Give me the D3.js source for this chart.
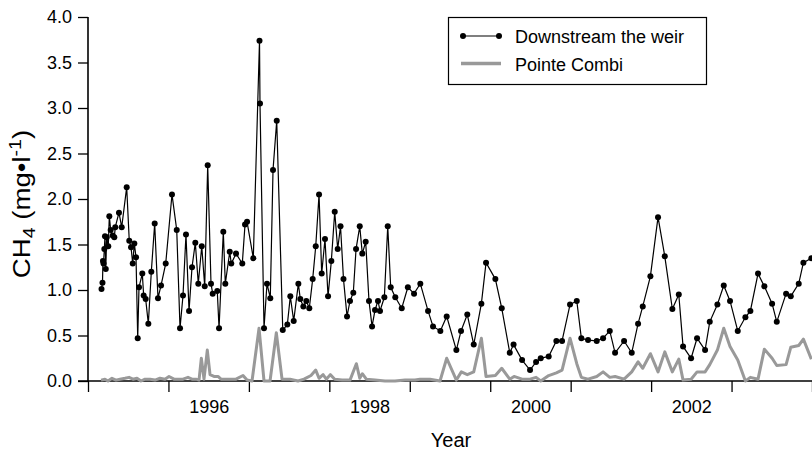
<!DOCTYPE html>
<html>
<head>
<meta charset="utf-8">
<script src="https://cdn.jsdelivr.net/npm/d3@7"></script>
<style>
  html, body { margin: 0; padding: 0; background: #fff; }
  svg { display: block; font-family: "Liberation Sans", Arial, sans-serif; }
</style>
</head>
<body>
<svg id="chart" width="812" height="454"></svg>
<script>
// ---- Data ----
const dsYear = [1994.668,1994.680,1994.686,1994.693,1994.703,1994.711,1994.721,1994.732,1994.752,1994.765,1994.782,1994.807,1994.827,1994.839,1994.885,1994.919,1994.981,1995.013,1995.035,1995.056,1995.076,1995.097,1995.118,1995.134,1995.175,1995.192,1995.217,1995.250,1995.287,1995.329,1995.370,1995.408,1995.466,1995.544,1995.603,1995.644,1995.681,1995.718,1995.756,1995.793,1995.834,1995.871,1995.914,1995.951,1995.988,1996.029,1996.050,1996.107,1996.129,1996.182,1996.207,1996.262,1996.281,1996.340,1996.418,1996.452,1996.477,1996.555,1996.632,1996.638,1996.688,1996.725,1996.766,1996.800,1996.846,1996.921,1996.978,1997.015,1997.057,1997.115,1997.139,1997.177,1997.214,1997.251,1997.293,1997.331,1997.372,1997.405,1997.446,1997.484,1997.525,1997.567,1997.604,1997.639,1997.676,1997.720,1997.757,1997.798,1997.832,1997.878,1997.910,1997.952,1997.993,1998.031,1998.068,1998.105,1998.130,1998.184,1998.226,1998.263,1998.320,1998.400,1998.476,1998.553,1998.631,1998.727,1998.789,1998.880,1998.959,1999.079,1999.137,1999.215,1999.295,1999.390,1999.448,1999.564,1999.643,1999.743,1999.790,1999.896,1999.995,2000.070,2000.128,2000.227,2000.322,2000.393,2000.492,2000.576,2000.633,2000.716,2000.824,2000.903,2000.986,2001.052,2001.164,2001.259,2001.338,2001.396,2001.491,2001.586,2001.670,2001.764,2001.844,2001.897,2001.997,2002.071,2002.171,2002.229,2002.324,2002.403,2002.481,2002.577,2002.672,2002.734,2002.829,2002.908,2003.004,2003.062,2003.178,2003.236,2003.335,2003.393,2003.492];
const dsVal  = [1.01,1.08,1.32,1.29,1.45,1.59,1.23,1.58,1.48,1.81,1.66,1.60,1.58,1.69,1.85,1.69,2.13,1.54,1.47,1.29,1.51,1.36,0.47,1.03,1.18,0.94,0.90,0.63,1.20,1.73,0.91,1.05,1.29,2.05,1.66,0.58,0.94,1.61,0.77,1.25,1.52,1.07,1.48,1.04,2.37,1.07,0.96,0.99,0.58,1.64,1.07,1.42,1.29,1.40,1.29,1.72,1.75,1.35,3.74,3.05,0.58,1.07,0.91,2.32,2.86,0.56,0.62,0.93,0.66,1.07,0.90,0.82,0.88,0.80,1.12,1.48,2.05,1.18,1.56,0.93,1.32,1.86,1.45,1.70,1.12,0.71,0.88,0.97,1.45,1.70,1.40,1.53,0.88,0.60,0.78,0.88,0.77,0.92,1.70,1.03,0.92,0.80,1.03,0.96,1.07,0.77,0.60,0.55,0.71,0.34,0.55,0.73,0.40,0.85,1.30,1.12,0.80,0.31,0.40,0.23,0.12,0.21,0.25,0.27,0.44,0.44,0.84,0.88,0.47,0.45,0.44,0.47,0.55,0.31,0.44,0.31,0.63,0.82,1.15,1.80,1.37,0.79,0.95,0.38,0.25,0.47,0.34,0.65,0.84,1.05,0.88,0.55,0.70,0.77,1.18,1.04,0.85,0.65,0.96,0.93,1.07,1.30,1.35];

const pcYear = [1994.662,1994.711,1994.749,1994.798,1994.848,1994.898,1994.960,1995.010,1995.059,1995.109,1995.159,1995.209,1995.271,1995.333,1995.395,1995.457,1995.507,1995.569,1995.619,1995.681,1995.743,1995.793,1995.843,1995.880,1995.909,1995.942,1995.983,1996.017,1996.066,1996.116,1996.154,1996.241,1996.340,1996.427,1996.477,1996.539,1996.626,1996.688,1996.763,1996.841,1996.912,1997.011,1997.111,1997.185,1997.272,1997.331,1997.372,1997.422,1997.463,1997.512,1997.567,1997.658,1997.757,1997.836,1997.878,1997.910,1997.960,1998.068,1998.192,1998.317,1998.441,1998.565,1998.627,1998.752,1998.876,1998.959,1999.079,1999.141,1999.215,1999.295,1999.390,1999.448,1999.564,1999.643,1999.743,1999.796,1999.896,1999.995,2000.070,2000.128,2000.227,2000.322,2000.393,2000.492,2000.576,2000.633,2000.716,2000.824,2000.903,2000.986,2001.052,2001.164,2001.259,2001.338,2001.396,2001.491,2001.586,2001.670,2001.764,2001.844,2001.897,2001.997,2002.071,2002.171,2002.229,2002.324,2002.403,2002.481,2002.577,2002.672,2002.734,2002.829,2002.908,2003.004,2003.062,2003.178,2003.236,2003.335,2003.393,2003.492];
const pcVal  = [0.01,0.02,0.00,0.03,0.01,0.02,0.03,0.04,0.02,0.03,0.00,0.02,0.02,0.01,0.03,0.02,0.05,0.02,0.02,0.02,0.04,0.02,0.02,0.01,0.25,0.02,0.34,0.07,0.05,0.05,0.02,0.02,0.02,0.06,0.01,0.00,0.58,0.00,0.00,0.53,0.02,0.02,0.00,0.02,0.06,0.12,0.03,0.07,0.02,0.07,0.02,0.01,0.01,0.19,0.03,0.08,0.02,0.01,0.00,0.00,0.01,0.01,0.02,0.02,0.00,0.25,0.01,0.10,0.07,0.10,0.47,0.05,0.06,0.14,0.02,0.05,0.02,0.02,0.04,0.00,0.06,0.09,0.12,0.47,0.19,0.04,0.02,0.05,0.10,0.04,0.05,0.02,0.10,0.21,0.14,0.30,0.10,0.32,0.10,0.24,0.01,0.02,0.10,0.10,0.18,0.34,0.58,0.38,0.23,0.00,0.04,0.02,0.35,0.25,0.17,0.18,0.37,0.39,0.46,0.24];

const yTicks = [0, 0.5, 1, 1.5, 2, 2.5, 3, 3.5, 4];
const xBoundaryTicks = [1994.5,1995.5,1996.5,1997.5,1998.5,1999.5,2000.5,2001.5,2002.5,2003.5];
const xLabels = [1996, 1998, 2000, 2002];
const seriesNames = ["Downstream the weir", "Pointe Combi"];

// ---- Layout ----
const svg = d3.select("#chart");
const mLeft = 88, mRight = 812, mTop = 17, mBottom = 381;
const FONT = "Liberation Sans, Arial, sans-serif";

const x = d3.scaleLinear().domain([1994.5, 2003.5]).range([mLeft, mRight]);
const y = d3.scaleLinear().domain([0, 4]).range([mBottom, mTop]);

svg.append("defs").append("clipPath").attr("id", "clip")
  .append("rect").attr("x", mLeft).attr("y", 0).attr("width", mRight - mLeft).attr("height", mBottom + 2);

// Y axis
const yAxis = svg.append("g").attr("transform", `translate(${mLeft},0)`)
  .call(d3.axisLeft(y).tickValues(yTicks).tickFormat(d3.format(".1f")).tickSize(10).tickPadding(6));
yAxis.select(".domain").attr("d", `M0,${mTop}V${mBottom}`).attr("stroke", "#000").attr("stroke-width", 1.6);
yAxis.selectAll(".tick line").attr("stroke", "#000").attr("stroke-width", 1.3);
yAxis.selectAll("text").attr("font-size", 18).attr("fill", "#000").attr("font-family", FONT);

// X axis (ticks at year boundaries, no labels)
const xAxis = svg.append("g").attr("transform", `translate(0,${mBottom})`)
  .call(d3.axisBottom(x).tickValues(xBoundaryTicks).tickFormat("").tickSize(11));
xAxis.select(".domain").attr("d", `M${mLeft - 10},0H${mRight}`).attr("stroke", "#000").attr("stroke-width", 1.6);
xAxis.selectAll(".tick line").attr("stroke", "#000").attr("stroke-width", 1.3);

// X labels (centred in year)
const xLab = svg.append("g").attr("transform", `translate(0,${mBottom})`)
  .call(d3.axisBottom(x).tickValues(xLabels).tickFormat(d3.format("d")).tickSize(0).tickPadding(19));
xLab.select(".domain").remove();
xLab.selectAll("text").attr("font-size", 18).attr("fill", "#000").attr("font-family", FONT);

// Axis titles
svg.append("text").attr("x", 451).attr("y", 447).attr("text-anchor", "middle")
  .attr("font-size", 20).attr("font-family", FONT).attr("fill", "#000").text("Year");

const yt = svg.append("text").attr("transform", "translate(30,204) rotate(-90) scale(1.15,1)")
  .attr("text-anchor", "middle").attr("font-size", 24).attr("font-family", FONT).attr("fill", "#000");
yt.append("tspan").text("CH");
yt.append("tspan").attr("font-size", 17).attr("dy", 5).text("4");
yt.append("tspan").attr("dy", -5).text(" (mg•l");
yt.append("tspan").attr("font-size", 17).attr("dy", -9).text("-1");
yt.append("tspan").attr("dy", 9).text(")");

// Series
const plot = svg.append("g").attr("clip-path", "url(#clip)");

const pcData = pcYear.map((d, i) => ({ x: d, v: pcVal[i] }));
const dsData = dsYear.map((d, i) => ({ x: d, v: dsVal[i] }));

const line = d3.line().x(d => x(d.x)).y(d => y(d.v));

plot.append("path").datum(pcData).attr("d", line)
  .attr("fill", "none").attr("stroke", "#999").attr("stroke-width", 3).attr("stroke-linejoin", "round");

plot.append("path").datum(dsData).attr("d", line)
  .attr("fill", "none").attr("stroke", "#000").attr("stroke-width", 1.2);

plot.selectAll("circle.ds").data(dsData).enter().append("circle")
  .attr("class", "ds").attr("cx", d => x(d.x)).attr("cy", d => y(d.v)).attr("r", 3).attr("fill", "#000");

// Legend
const lg = svg.append("g");
lg.append("rect").attr("x", 448.5).attr("y", 17.5).attr("width", 258).attr("height", 67)
  .attr("fill", "#fff").attr("stroke", "#000").attr("stroke-width", 1.2);
lg.append("line").attr("x1", 463).attr("x2", 499).attr("y1", 36).attr("y2", 36).attr("stroke", "#000").attr("stroke-width", 1.2);
lg.selectAll("circle").data([463, 499]).enter().append("circle")
  .attr("cx", d => d).attr("cy", 36).attr("r", 3).attr("fill", "#000");
lg.append("line").attr("x1", 461).attr("x2", 501).attr("y1", 63.5).attr("y2", 63.5).attr("stroke", "#999").attr("stroke-width", 3.5);
lg.append("text").attr("x", 515).attr("y", 43).attr("font-size", 18).attr("font-family", FONT).attr("fill", "#000").text(seriesNames[0]);
lg.append("text").attr("x", 515).attr("y", 71).attr("font-size", 18).attr("font-family", FONT).attr("fill", "#000").text(seriesNames[1]);
</script>
</body>
</html>
